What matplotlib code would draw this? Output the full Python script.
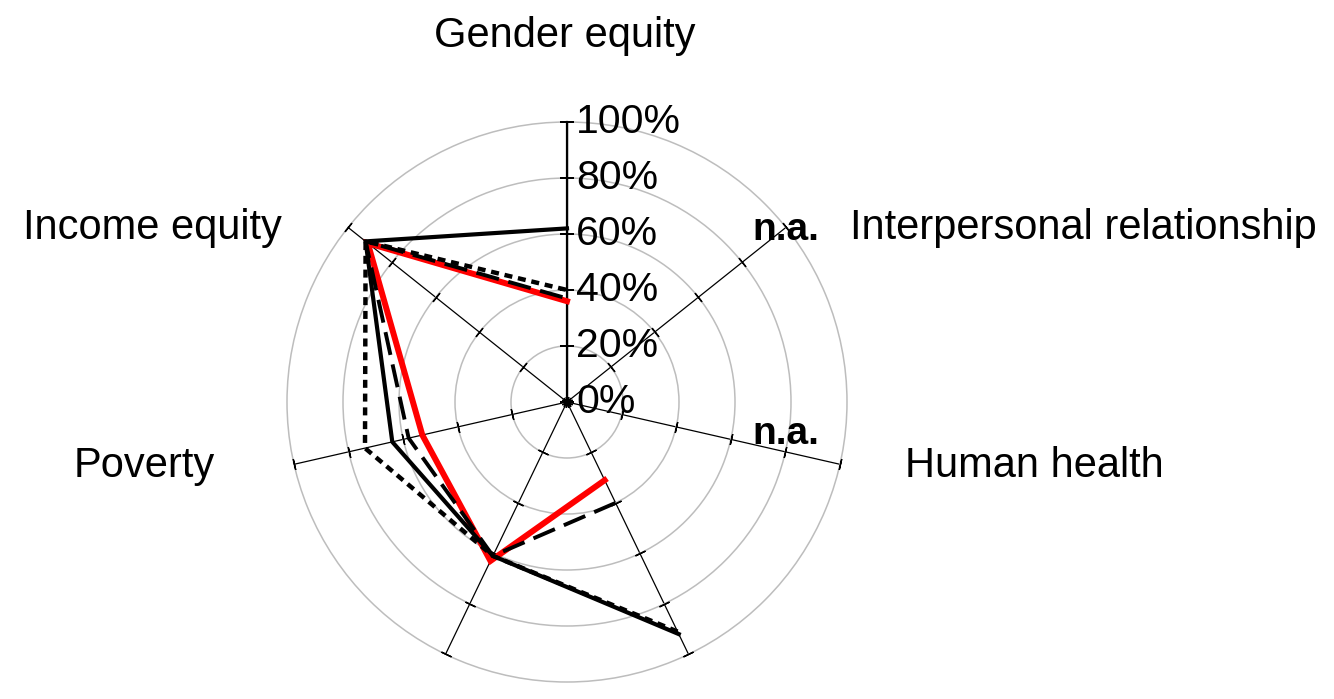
import numpy as np
import matplotlib
matplotlib.use("Agg")
import matplotlib.pyplot as plt
from matplotlib.transforms import offset_copy

plt.rcParams['font.family'] = ['Liberation Sans', 'DejaVu Sans']

# ---- data ----
categories = ["Gender equity", "Interpersonal relationship", "Human health", "", "", "Poverty", "Income equity"]
nan = np.nan
series_solid = [62, nan, nan, 92, 61, 64, 92]
series_dotted = [40, nan, nan, 91, 61, 74, 92]
series_dashed = [37, nan, nan, 40, 61, 58, 92]
series_red = [36, nan, nan, 31, 63, 53, 91]
r_ticks = [0, 20, 40, 60, 80, 100]
r_tick_labels = ["0%", "20%", "40%", "60%", "80%", "100%"]
na_label = "n.a."

W, H = 1334, 699
fig = plt.figure(figsize=(W / 100, H / 100), dpi=100)
cx, cy, R = 567, 402, 280
ax = fig.add_axes([(cx - R) / W, (H - cy - R) / H, 2 * R / W, 2 * R / H], projection='polar')
ax.set_theta_zero_location('N')
ax.set_theta_direction(-1)
ax.set_ylim(0, 100)

n = len(categories)
theta = np.arange(n) * 2 * np.pi / n

# grid
ax.spines['polar'].set_visible(False)
ax.set_yticks(r_ticks[1:])
ax.set_yticklabels([])
ax.yaxis.grid(True, color='#bdbdbd', lw=1.1)
ax.set_xticks(theta)
ax.set_xticklabels([])
ax.xaxis.grid(True, color='black', lw=0.9)
ax.tick_params(length=0)
ax.set_facecolor('none')
for gl in ax.yaxis.get_gridlines() + ax.xaxis.get_gridlines():
    gl.set_clip_on(False)

# value axis (thicker) on first spoke
ax.plot([theta[0], theta[0]], [0, 100], color='black', lw=1.6, zorder=3, clip_on=False)

# tick crosses on spokes
for i, t in enumerate(theta):
    screen_deg = 90 - np.degrees(t)
    ax.plot([t] * len(r_ticks), r_ticks, linestyle='none', marker=(2, 2, screen_deg),
            markersize=8 if i else 10, markeredgewidth=1.3 if i == 0 else 1.0,
            color='black', zorder=3, clip_on=False)

def closed(v):
    return list(v) + [v[0]]

tt = list(theta) + [theta[0]]
ax.plot(tt, closed(series_red), color='#ff0000', lw=4.3, zorder=4,
        solid_joinstyle='miter')
ax.plot(tt, closed(series_solid), color='black', lw=3.0, zorder=5,
        solid_joinstyle='miter')
ax.plot(tt, closed(series_dashed), color='black', lw=2.8, zorder=6,
        dashes=(6, 2.5), dash_capstyle='butt')
ax.plot(tt, closed(series_dotted), color='black', lw=3.2, zorder=7,
        dashes=(1.8, 1.3), dash_capstyle='butt')

# radial tick labels
tr = offset_copy(ax.transData, fig=fig, x=9, y=0, units='dots')
for r, lab in zip(r_ticks, r_tick_labels):
    ax.text(theta[0], r, lab, transform=tr, ha='left', va='center',
            fontsize=29.5, color='black', zorder=8)

# category labels
fs = 30
fig.text(565 / W, 1 - 36 / H, categories[0], ha='center', va='center', fontsize=fs)
fig.text(850 / W, 1 - 228 / H, categories[1], ha='left', va='center', fontsize=fs)
fig.text(905 / W, 1 - 466 / H, categories[2], ha='left', va='center', fontsize=fs)
fig.text(215 / W, 1 - 466 / H, categories[5], ha='right', va='center', fontsize=fs)
fig.text(282 / W, 1 - 228 / H, categories[6], ha='right', va='center', fontsize=fs)
fig.text(752 / W, 1 - 230 / H, na_label, ha='left', va='center', fontsize=28, fontweight='bold')
fig.text(752 / W, 1 - 434 / H, na_label, ha='left', va='center', fontsize=28, fontweight='bold')

fig.savefig('out.png', dpi=100)
